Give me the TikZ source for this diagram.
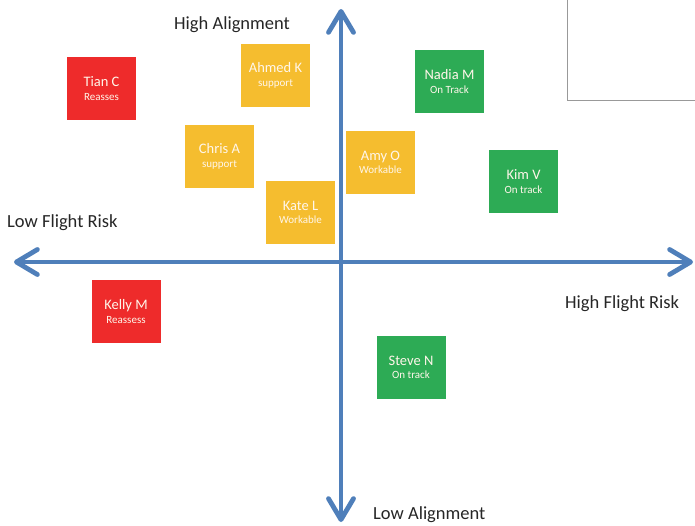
\documentclass[tikz,border=0pt]{standalone}
\usepackage{fontspec}
\setmainfont{Carlito}
\usetikzlibrary{arrows.meta}
\definecolor{axisblue}{HTML}{4F7FBA}
\definecolor{boxred}{HTML}{EE2B2B}
\definecolor{boxyellow}{HTML}{F5BD2F}
\definecolor{boxgreen}{HTML}{2DAB55}
\definecolor{txtcol}{HTML}{FFF6EA}
\definecolor{lblcol}{HTML}{262626}
\tikzset{
  person/.style={minimum width=69pt, minimum height=63pt, inner sep=0pt, align=center, text=txtcol},
  redbox/.style={person, fill=boxred},
  yellowbox/.style={person, fill=boxyellow},
  greenbox/.style={person, fill=boxgreen},
  axisline/.style={draw=axisblue, line width=4.8pt, {Straight Barb[length=21pt,width=25pt,round]}-{Straight Barb[length=21pt,width=25pt,round]}},
  axislabel/.style={font=\fontsize{18.5}{22}\selectfont, text=lblcol, inner sep=0pt},
}
\newcommand{\pname}[2]{{\fontsize{14.5}{16}\selectfont #1}\\[1.5pt]{\fontsize{11}{12}\selectfont #2}}
\begin{document}
\begin{tikzpicture}[x=1pt,y=-1pt]
\useasboundingbox (0,0) rectangle (695,525);
% top-right frame
\draw[color=gray!80, line width=0.8pt] (567,0) -- (567,100) -- (696,100);
% axes
\coordinate (top) at (341,9);
\coordinate (bot) at (341,522);
\coordinate (lft) at (14,262);
\coordinate (rgt) at (693,262);
\draw[axisline] (bot) -- (top);
\draw[axisline] (lft) -- (rgt);
% labels
\node[axislabel, anchor=west] (ha) at (174,25) {High Alignment};
\node[axislabel, anchor=west] (la) at (373,515) {Low Alignment};
\node[axislabel, anchor=west] (lf) at (7,223) {Low Flight Risk};
\node[axislabel, anchor=west] (hf) at (565,304) {High Flight Risk};
% boxes
\node[redbox] (tian) at (101.5,88.5) {\pname{Tian C}{Reasses}};
\node[yellowbox] (ahmed) at (275.5,75.5) {\pname{Ahmed K}{support}};
\node[yellowbox] (chris) at (219.5,156.5) {\pname{Chris A}{support}};
\node[yellowbox] (kate) at (300.5,212.5) {\pname{Kate L}{Workable}};
\node[yellowbox] (amy) at (380.5,162.5) {\pname{Amy O}{Workable}};
\node[greenbox] (nadia) at (449.5,81.5) {\pname{Nadia M}{On Track}};
\node[greenbox] (kim) at (523.5,181.5) {\pname{Kim V}{On track}};
\node[redbox] (kelly) at (126,311.5) {\pname{Kelly M}{Reassess}};
\node[greenbox] (steve) at (411,367.5) {\pname{Steve N}{On track}};
\end{tikzpicture}
\end{document}
